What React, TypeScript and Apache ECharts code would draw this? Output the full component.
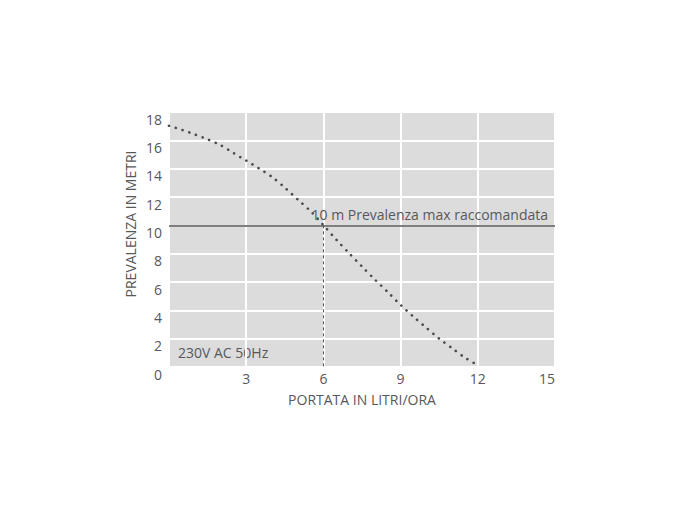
import React, { useEffect, useRef } from "react";
import * as echarts from "echarts";

const flowValues = [0, 0.5, 1, 1.5, 2, 2.5, 3, 3.5, 4, 4.5, 5, 5.5, 6, 6.5, 7, 7.5, 8, 8.5, 9, 9.5, 10, 10.5, 11, 11.5, 12];
const headValues = [
  17.03, 16.74, 16.42, 16.07, 15.66, 15.11, 14.57, 14.02, 13.42, 12.66, 11.83, 11.0, 10.02,
  8.99, 8.03, 7.09, 6.17, 5.29, 4.38, 3.55, 2.77, 2.0, 1.33, 0.66, 0.12,
];
const xTicks = { min: 0, max: 15, interval: 3 };
const yTicks = { min: 0, max: 18, interval: 2 };
const maxHead = 10;
const maxHeadFlow = 6;
const maxHeadLabel = "10 m Prevalenza max raccomandata";
const voltageLabel = "230V AC 50Hz";
const xName = "PORTATA IN LITRI/ORA";
const yName = "PREVALENZA IN METRI";

const FONT = "Open Sans";
const TXT = "#58585a";

export default function App() {
  const ref = useRef<HTMLDivElement>(null);
  useEffect(() => {
    if (!ref.current) return;
    const chart = echarts.init(ref.current, null, { renderer: "svg" });
    const data = flowValues.map((x, i) => [x, headValues[i]]);
    chart.setOption({
      animation: false,
      backgroundColor: "#ffffff",
      textStyle: { fontFamily: FONT },
      grid: {
        left: 169,
        right: 145,
        top: 112,
        bottom: 153,
        show: true,
        backgroundColor: "#dcdcdd",
        borderWidth: 0,
      },
      xAxis: {
        type: "value",
        min: xTicks.min,
        max: xTicks.max,
        interval: xTicks.interval,
        name: xName,
        nameLocation: "middle",
        nameGap: 25,
        nameTextStyle: { color: TXT, fontSize: 14, fontFamily: FONT },
        axisLine: { show: false },
        axisTick: { show: false },
        axisLabel: {
          color: TXT,
          fontSize: 14,
          fontFamily: FONT,
          margin: 4,
          showMinLabel: false,
          alignMaxLabel: "right",
        },
        splitLine: { show: true, lineStyle: { color: "#ffffff", width: 2 } },
      },
      yAxis: {
        type: "value",
        min: yTicks.min,
        max: yTicks.max,
        interval: yTicks.interval,
        axisLine: { show: false },
        axisTick: { show: false },
        axisLabel: {
          color: TXT,
          fontSize: 14,
          fontFamily: FONT,
          margin: 7,
          verticalAlign: "top",
        },
        splitLine: { show: true, lineStyle: { color: "#ffffff", width: 2 } },
      },
      graphic: [
        {
          type: "text",
          x: 130,
          y: 224,
          rotation: Math.PI / 2,
          style: {
            text: yName,
            fill: TXT,
            font: `14px "${FONT}"`,
            align: "center",
            verticalAlign: "middle",
          },
        },
        {
          type: "text",
          x: 178,
          y: 352,
          style: {
            text: voltageLabel,
            fill: TXT,
            font: `14px "${FONT}"`,
            align: "left",
            verticalAlign: "middle",
          },
        },
      ],
      series: [
        {
          type: "line",
          data,
          smooth: 0.3,
          symbol: "none",
          lineStyle: {
            color: "#4a4a4c",
            width: 2.6,
            type: [0.1, 7],
            cap: "round",
          },
          markLine: {
            silent: true,
            symbol: "none",
            data: [
              {
                yAxis: maxHead,
                lineStyle: { color: "#555557", width: 1.5, type: "solid" },
                label: {
                  show: true,
                  formatter: maxHeadLabel,
                  position: "insideEndTop",
                  distance: [7, 4],
                  color: TXT,
                  fontSize: 14,
                  fontFamily: FONT,
                },
              },
              [
                {
                  coord: [maxHeadFlow, maxHead],
                  lineStyle: { color: "#555557", width: 1, type: [3, 3] },
                  label: { show: false },
                },
                { coord: [maxHeadFlow, 0] },
              ],
            ],
          },
        },
      ],
    });
    return () => chart.dispose();
  }, []);
  return (
    <div
      ref={ref}
      style={{ position: "fixed", left: 0, top: 0, width: 700, height: 520 }}
    />
  );
}
